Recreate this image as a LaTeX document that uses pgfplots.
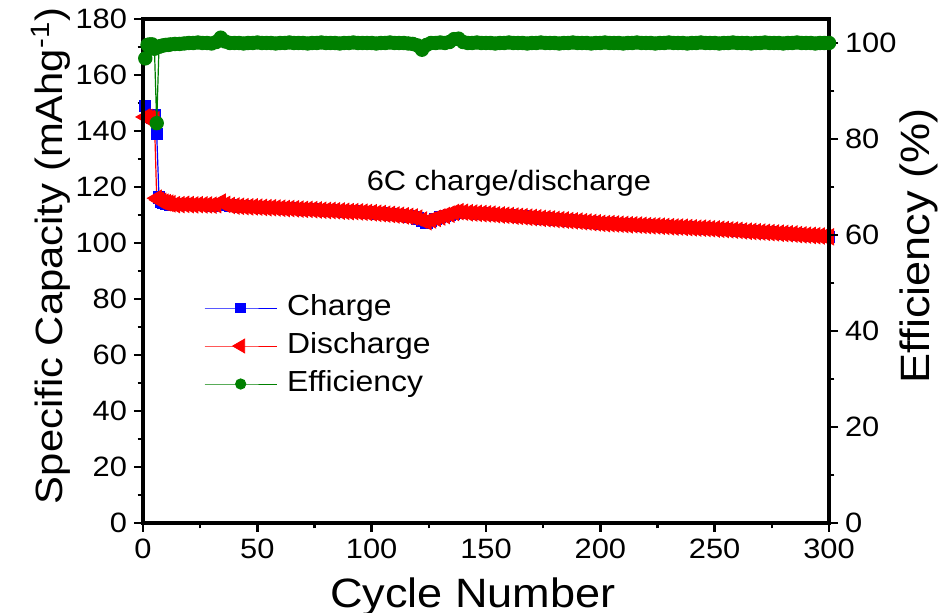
\documentclass[border=0pt]{standalone}
\usepackage{fontspec}
\setmainfont{Liberation Sans}[FakeStretch=1.1]
\usepackage{pgfplots}
\usepackage{pgfplotstable}
\pgfplotsset{compat=1.18}

\definecolor{effgreen}{RGB}{0,128,0}

% cycle, charge / discharge capacity (mAh/g), coulombic efficiency (%)
\pgfplotstableread{
cycle charge discharge eff
1 149.0 145.0 96.8
2 145.5 144.8 99.6
3 145.0 144.5 99.7
4 144.6 144.3 99.7
5 145.5 144.0 98.8
6 139.0 116.0 83.3
7 116.3 115.3 99.2
8 114.6 114.9 99.4
9 114.3 114.6 99.5
10 114.0 114.4 99.6
11 113.9 114.2 99.6
12 113.7 114.0 99.7
14 113.6 113.7 99.8
16 113.6 113.7 99.8
18 113.7 113.8 99.9
20 113.6 113.7 100.0
22 113.5 113.6 100.0
24 113.6 113.7 100.1
26 113.5 113.6 100.0
28 113.5 113.6 100.0
30 113.4 113.5 99.9
32 113.5 113.7 100.2
34 113.7 114.6 101.1
36 113.6 113.8 100.3
38 113.4 113.4 100.0
40 113.2 113.2 100.0
42 113.1 113.1 100.0
44 113.0 113.0 99.9
46 112.9 112.9 100.0
48 112.9 112.9 100.0
50 112.8 112.8 100.1
52 112.7 112.7 100.0
54 112.6 112.6 100.0
56 112.6 112.6 100.0
58 112.5 112.5 99.9
60 112.4 112.4 100.0
62 112.3 112.3 100.0
64 112.3 112.3 100.1
66 112.2 112.2 100.0
68 112.1 112.1 100.0
70 112.0 112.0 100.0
72 112.0 112.0 99.9
74 111.9 111.9 100.0
76 111.8 111.8 100.0
78 111.7 111.7 100.1
80 111.6 111.6 100.0
82 111.6 111.6 100.0
84 111.5 111.5 100.0
86 111.4 111.4 99.9
88 111.3 111.3 100.0
90 111.2 111.2 100.0
92 111.2 111.2 100.1
94 111.1 111.1 100.0
96 111.0 111.0 100.0
98 110.9 110.9 100.0
100 110.8 110.8 100.0
102 110.6 110.6 99.9
104 110.5 110.5 100.0
106 110.3 110.3 100.0
108 110.2 110.2 100.1
110 110.0 110.0 100.0
112 109.9 109.9 100.0
114 109.7 109.7 100.0
116 109.5 109.5 99.9
118 109.3 109.3 99.8
120 108.8 108.9 99.5
122 107.8 108.2 98.6
124 107.1 107.6 99.6
126 107.9 108.2 100.0
128 108.6 108.8 100.0
130 109.2 109.3 100.1
132 109.7 109.8 100.0
134 110.1 110.3 100.2
136 110.4 110.9 100.8
138 110.7 111.2 100.9
140 110.8 111.0 100.2
142 110.8 110.8 100.0
144 110.7 110.7 100.0
146 110.6 110.6 100.1
148 110.5 110.5 100.0
150 110.4 110.4 100.0
152 110.3 110.3 100.0
154 110.1 110.1 99.9
156 110.0 110.0 100.0
158 109.9 109.9 100.0
160 109.8 109.8 100.1
162 109.6 109.6 100.0
164 109.5 109.5 100.0
166 109.4 109.4 100.0
168 109.2 109.2 99.9
170 109.1 109.1 100.0
172 109.0 109.0 100.0
174 108.8 108.8 100.1
176 108.7 108.7 100.0
178 108.6 108.6 100.0
180 108.4 108.4 100.0
182 108.3 108.3 99.9
184 108.2 108.2 100.0
186 108.0 108.0 100.0
188 107.9 107.9 100.1
190 107.8 107.8 100.0
192 107.6 107.6 100.0
194 107.5 107.5 100.0
196 107.3 107.3 99.9
198 107.2 107.2 100.0
200 107.0 107.0 100.0
202 106.9 106.9 100.1
204 106.9 106.9 100.0
206 106.8 106.8 100.0
208 106.7 106.7 100.0
210 106.6 106.6 99.9
212 106.5 106.5 100.0
214 106.5 106.5 100.0
216 106.4 106.4 100.1
218 106.3 106.3 100.0
220 106.2 106.2 100.0
222 106.1 106.1 100.0
224 106.1 106.1 99.9
226 106.0 106.0 100.0
228 105.9 105.9 100.0
230 105.8 105.8 100.1
232 105.7 105.7 100.0
234 105.7 105.7 100.0
236 105.6 105.6 100.0
238 105.5 105.5 99.9
240 105.4 105.4 100.0
242 105.3 105.3 100.0
244 105.3 105.3 100.1
246 105.2 105.2 100.0
248 105.1 105.1 100.0
250 105.0 105.0 100.0
252 104.9 104.9 99.9
254 104.8 104.8 100.0
256 104.7 104.7 100.0
258 104.6 104.6 100.1
260 104.5 104.5 100.0
262 104.3 104.3 100.0
264 104.2 104.2 100.0
266 104.1 104.1 99.9
268 104.0 104.0 100.0
270 103.9 103.9 100.0
272 103.8 103.8 100.1
274 103.7 103.7 100.0
276 103.6 103.6 100.0
278 103.5 103.5 100.0
280 103.4 103.4 99.9
282 103.3 103.3 100.0
284 103.2 103.2 100.0
286 103.0 103.0 100.1
288 102.9 102.9 100.0
290 102.8 102.8 100.0
292 102.7 102.7 100.0
294 102.6 102.6 99.9
296 102.5 102.5 100.0
298 102.4 102.4 100.0
300 102.2 102.2 100.0
}\cyc

\pgfplotsset{
  base/.style={
    scale only axis, width=343pt, height=252pt,
    xmin=0, xmax=300, clip=false,
    tick align=outside,
    major tick length=4.5pt, minor tick length=2.7pt,
    every tick/.style={black, line width=1.3pt},
    axis line style={line width=1.6pt},
    /pgf/number format/assume math mode=true,
    tick label style={font=\fontsize{14}{16}\selectfont},
    label style={font=\fontsize{19}{22}\selectfont},
  },
  chg/.style={blue, line width=0.6pt, mark=square*, mark size=2.8pt, mark options={solid}},
  dis/.style={red, line width=0.6pt, mark=triangle*, mark size=4.5pt, mark options={solid, rotate=90}},
  effst/.style={effgreen, line width=0.6pt, mark=*, mark size=3.3pt, mark options={solid}},
}

\begin{document}
\begin{tikzpicture}
\begin{axis}[base,
    ymin=0, ymax=180, ytick={0,20,...,180}, minor y tick num=1,
    xtick={0,50,...,300}, minor x tick num=1,
    xtick pos=left, ytick pos=left,
    xlabel={Cycle Number},
    xlabel style={at={(axis description cs:0.481,-0.167)}, anchor=base, font=\fontsize{20.5}{24}\selectfont},
    ylabel={Specific Capacity (mAhg\textsuperscript{-1})},
    ylabel style={at={(axis description cs:-0.118,0.53)}, anchor=base},
]
\addplot[chg] table[x=cycle, y=charge] {\cyc};
\addplot[dis] table[x=cycle, y=discharge] {\cyc};
\node[font=\fontsize{14}{16}\selectfont] at (axis cs:160,121.5) {6C charge/discharge};
\end{axis}

\begin{axis}[base,
    ymin=0, ymax=105, ytick={0,20,...,100}, minor y tick num=1,
    hide x axis, ytick pos=right, yticklabel pos=right,
    ylabel={Efficiency (\%)},
    ylabel style={at={(axis description cs:1.146,0.55)}, anchor=base, font=\fontsize{20.5}{24}\selectfont},
    legend cell align=left,
    legend image code/.code={\draw[mark repeat=2, mark phase=2, #1] plot coordinates {(0pt,0pt) (18pt,0pt) (36pt,0pt)};},
    legend style={at={(0.08,0.47)}, anchor=north west, draw=none, fill=none,
      font=\fontsize{14.5}{16}\selectfont, row sep=1.5pt,
      nodes={inner sep=2pt, text height=10.5pt, text depth=3pt},
      column sep=3pt},
]
\addlegendimage{chg, line width=0.4pt, mark size=2.4pt}
\addlegendentry{Charge}
\addlegendimage{dis, line width=0.4pt, mark size=4pt}
\addlegendentry{Discharge}
\addlegendimage{effst, line width=0.4pt, mark size=2.6pt}
\addlegendentry{Efficiency}
\addplot[effst, forget plot] table[x=cycle, y=eff] {\cyc};
\end{axis}
\pgfresetboundingbox
\path (-71.5pt,-45pt) rectangle (397.5pt,261.5pt);
\end{tikzpicture}
\end{document}
